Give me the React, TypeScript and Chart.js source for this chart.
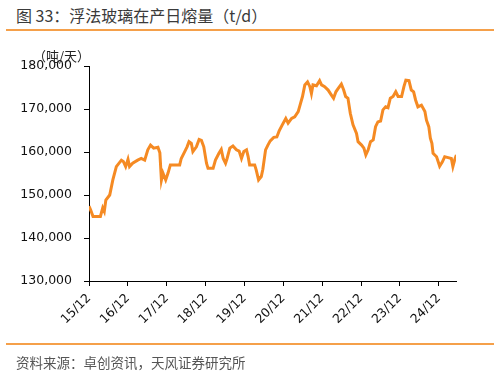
import React, { useEffect, useRef } from "react";
import { Chart, registerables } from "chart.js";

Chart.register(...registerables);

// Time as decimal years, values in t/d
const dates: number[] = [
  2015.917, 2015.96, 2016.02, 2016.21, 2016.27, 2016.31, 2016.35, 2016.45, 2016.53, 2016.62,
  2016.75, 2016.80, 2016.86, 2016.92, 2016.96, 2017.04, 2017.17, 2017.26, 2017.35, 2017.43,
  2017.50, 2017.58, 2017.69, 2017.74, 2017.78, 2017.82, 2017.89, 2017.95, 2018.01, 2018.17,
  2018.25, 2018.29, 2018.38, 2018.44, 2018.49, 2018.55, 2018.59, 2018.68, 2018.75, 2018.81,
  2018.87, 2018.94, 2018.98, 2019.11, 2019.17, 2019.26, 2019.32, 2019.37, 2019.43, 2019.47,
  2019.54, 2019.62, 2019.71, 2019.78, 2019.84, 2019.90, 2019.97, 2020.01, 2020.05, 2020.18,
  2020.22, 2020.28, 2020.35, 2020.39, 2020.46, 2020.52, 2020.58, 2020.67, 2020.75, 2020.81,
  2020.89, 2020.98, 2021.04, 2021.13, 2021.21, 2021.30, 2021.36, 2021.41, 2021.47, 2021.54,
  2021.60, 2021.64, 2021.68, 2021.77, 2021.85, 2021.90, 2021.98, 2022.07, 2022.15, 2022.21,
  2022.27, 2022.33, 2022.41, 2022.47, 2022.52, 2022.58, 2022.64, 2022.71, 2022.80, 2022.84,
  2022.93, 2022.99, 2023.04, 2023.10, 2023.16, 2023.23, 2023.29, 2023.35, 2023.42, 2023.48,
  2023.55, 2023.61, 2023.67, 2023.74, 2023.81, 2023.87, 2023.96, 2024.02, 2024.07, 2024.15,
  2024.21, 2024.27, 2024.32, 2024.38, 2024.47, 2024.56, 2024.60, 2024.66, 2024.70, 2024.74,
  2024.77, 2024.86, 2024.94, 2025.01, 2025.07, 2025.16, 2025.24, 2025.28, 2025.33, 2025.37,
];

const values: number[] = [
  147400, 146500, 145000, 145000, 147000, 146200, 148800, 150000, 153500, 156600,
  158100, 157800, 156600, 158300, 156600, 157400, 158100, 158500, 158100, 160500,
  161600, 160900, 161100, 159800, 153500, 155100, 153500, 155100, 157000, 157000,
  157000, 158500, 160100, 161200, 162400, 162000, 160100, 161200, 162900, 162700,
  161200, 157400, 156200, 156200, 158100, 159700, 160600, 158500, 157400, 158500,
  160900, 161400, 160500, 160200, 158500, 160100, 160500, 159000, 157000, 157000,
  155800, 153500, 154300, 156000, 160500, 161600, 162600, 163400, 163500, 164900,
  166300, 167800, 166700, 167800, 168200, 169400, 171300, 172900, 175600, 176300,
  175200, 173600, 175600, 175400, 176600, 175600, 175200, 174400, 173300, 172500,
  174000, 174800, 175800, 174400, 172900, 172500, 169000, 166300, 164300, 162400,
  161600, 160900, 159300, 160500, 162400, 162800, 165900, 167000, 167200, 169800,
  170500, 170300, 172500, 172900, 174000, 172900, 172900, 175200, 176700, 176600,
  174400, 174000, 172100, 170500, 170900, 169400, 167400, 165900, 163200, 162000,
  159700, 158900, 156700, 157700, 158900, 158700, 158500, 156600, 158300, 159300,
];

const tickYears: number[] = [2015, 2016, 2017, 2018, 2019, 2020, 2021, 2022, 2023, 2024];
const yTicks: number[] = [130000, 140000, 150000, 160000, 170000, 180000];

const title = "图 33：浮法玻璃在产日熔量（t/d）";
const unitLabel = "（吨/天）";
const sourceText = "资料来源：卓创资讯，天风证券研究所";

const ORIGIN = 2015 + 11 / 12; // Dec 2015
const toMonths = (y: number) => (y - ORIGIN) * 12;

export default function App() {
  const canvasRef = useRef<HTMLCanvasElement | null>(null);

  useEffect(() => {
    if (!canvasRef.current) return;
    const data = dates.map((d, i) => ({ x: toMonths(d), y: values[i] }));
    const tickFont = { family: "'DejaVu Sans', sans-serif", size: 12.5 };
    const chart = new Chart(canvasRef.current, {
      type: "line",
      data: {
        datasets: [
          {
            data,
            borderColor: "#F58A23",
            borderWidth: 3,
            pointRadius: 0,
            tension: 0,
            fill: false,
          },
        ],
      },
      options: {
        animation: false,
        responsive: false,
        maintainAspectRatio: false,
        events: [],
        layout: { padding: { left: 0, top: 66, right: 43, bottom: 0 } },
        plugins: { legend: { display: false }, tooltip: { enabled: false }, title: { display: false } },
        scales: {
          x: {
            type: "linear",
            min: 0,
            max: toMonths(2025.36),
            afterBuildTicks: (scale: any) => {
              scale.ticks = tickYears.map((y) => ({ value: (y - 2015) * 12 }));
            },
            afterFit: (scale: any) => {
              scale.height = 373 - 281;
            },
            grid: { display: true, drawOnChartArea: false, drawTicks: true, tickLength: 5, color: "#000" },
            border: { display: true, color: "#000", width: 1 },
            ticks: {
              color: "#111",
              font: tickFont,
              minRotation: 45,
              maxRotation: 45,
              padding: 5,
              autoSkip: false,
              callback: (v: any) => `${15 + Math.round(Number(v) / 12)}/12`,
            },
          },
          y: {
            type: "linear",
            min: 130000,
            max: 180000,
            afterBuildTicks: (scale: any) => {
              scale.ticks = yTicks.map((v) => ({ value: v }));
            },
            afterFit: (scale: any) => {
              scale.width = 89;
            },
            grid: { display: true, drawOnChartArea: false, drawTicks: true, tickLength: 5, color: "#000" },
            border: { display: true, color: "#000", width: 1 },
            ticks: {
              color: "#111",
              font: tickFont,
              padding: 12,
              callback: (v: any) => Number(v).toLocaleString("en-US"),
            },
          },
        },
      },
    });
    return () => chart.destroy();
  }, []);

  return (
    <div
      style={{
        position: "fixed",
        left: 0,
        top: 0,
        width: 499,
        height: 373,
        background: "#fff",
        overflow: "hidden",
      }}
    >
      <div
        style={{
          position: "absolute",
          left: 16,
          top: 5,
          fontFamily: "'Noto Sans CJK SC', sans-serif",
          fontSize: 16,
          fontWeight: 400,
          color: "#3a3a3a",
          lineHeight: "20px",
          whiteSpace: "nowrap",
        }}
      >
        {title}
      </div>
      <div style={{ position: "absolute", left: 6, top: 29, width: 488, height: 2, background: "#F5A04A" }} />
      <canvas ref={canvasRef} width={499} height={373} style={{ position: "absolute", left: 0, top: 0 }} />
      <div
        style={{
          position: "absolute",
          left: 33,
          top: 48,
          fontFamily: "'Noto Sans CJK SC', sans-serif",
          fontSize: 13,
          color: "#222",
          lineHeight: "16px",
          whiteSpace: "nowrap",
        }}
      >
        {unitLabel}
      </div>
      <div style={{ position: "absolute", left: 6, top: 343, width: 488, height: 2, background: "#F5A04A" }} />
      <div
        style={{
          position: "absolute",
          left: 16,
          top: 353,
          fontFamily: "'Noto Sans CJK SC', sans-serif",
          fontSize: 13.5,
          color: "#555",
          lineHeight: "18px",
          whiteSpace: "nowrap",
        }}
      >
        {sourceText}
      </div>
    </div>
  );
}
